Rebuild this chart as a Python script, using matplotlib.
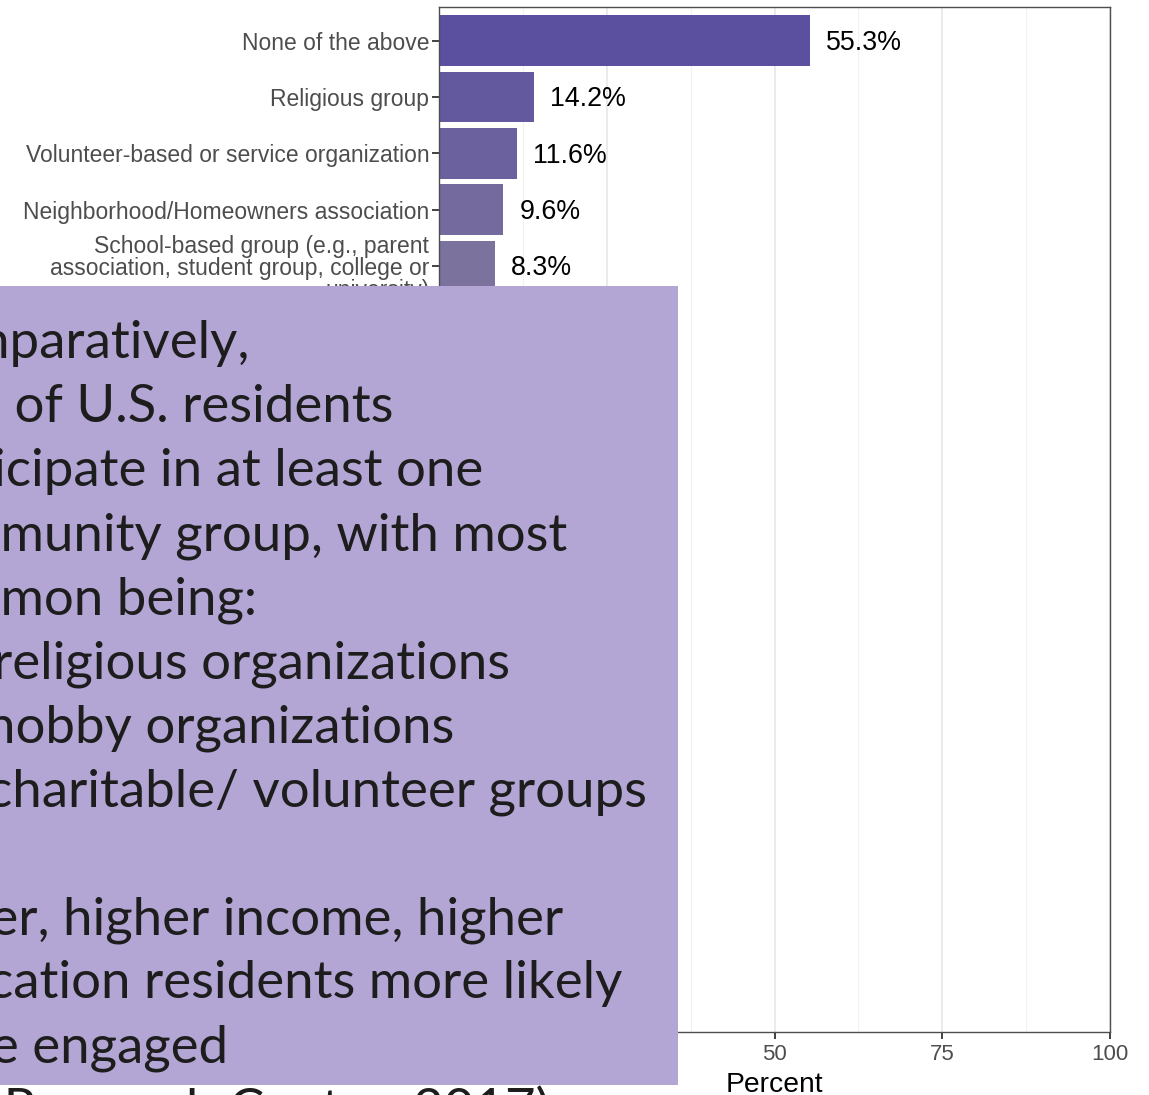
import numpy as np
import matplotlib.pyplot as plt
from matplotlib.colors import LinearSegmentedColormap
from matplotlib.patches import Rectangle

# data (top to bottom); groups below the fifth one are hidden under the text box
groups = [
    "None of the above",
    "Religious group",
    "Volunteer-based or service organization",
    "Neighborhood/Homeowners association",
    "School-based group (e.g., parent\nassociation, student group, college or\nuniversity)",
    "Hobby or interest group",
    "Sports or recreation league",
    "Professional association",
    "Civic or fraternal organization",
    "Support group",
    "Political group",
    "Cultural or ethnic group",
    "Arts or music group",
    "Environmental group",
    "Labor union",
    "Veterans group",
    "Youth organization",
    "Other",
]
percent = [55.3, 14.2, 11.6, 9.6, 8.3, 7.6, 6.9, 6.1, 5.4, 4.7, 4.1, 3.5, 3.0, 2.5, 2.0, 1.6, 1.2, 0.8]

x_ticks = [0, 25, 50, 75, 100]

# slide text: (line, number of chars cut off at the left edge, x of first visible char in px)
note_lines = [
    ("Comparatively,", 3, 10),
    ("58%  of U.S. residents", 5, 15),
    ("participate in at least one", 5, 6),
    ("community group, with most", 3, 0),
    ("common being:", 3, 0),
    ("religious organizations", 1, 12),
    ("hobby organizations", 1, 15),
    ("charitable/ volunteer groups", 1, 12),
    ("", 0, 0),
    ("Older, higher income, higher", 4, 18),
    ("education residents more likely", 4, 13),
    ("to be engaged", 6, 32),
    ("(Pew Research Center, 2017)", 5, 4),
]

W, H = 1149, 1095
fig = plt.figure(figsize=(W / 100, H / 100), dpi=100)
ax = fig.add_axes([439 / W, 1 - 1032 / H, (1110 - 439) / W, (1032 - 7) / H])

cmap = LinearSegmentedColormap.from_list("purp", ["#5b50a0", "#e7e197"])
n = len(groups)
ypos = np.arange(n)
colors = [cmap(i / (n - 1)) for i in range(n)]
ax.barh(ypos, percent, height=0.9, color=colors, zorder=2)

for y, v in zip(ypos, percent):
    ax.text(v + 2.4, y + 0.04, f"{v:.1f}%", va="center", ha="left",
            fontsize=19.3, family="Liberation Sans", color="black", zorder=3)

ax.set_xlim(0, 100)
ax.set_ylim(n - 0.4, -0.6)
ax.set_xticks(x_ticks)
ax.set_xticks([12.5, 37.5, 62.5, 87.5], minor=True)
ax.set_yticks(ypos)
ax.set_yticklabels(groups, fontsize=16.5, family="Liberation Sans",
                   color="#4d4d4d", linespacing=0.95)
ax.set_xticklabels([str(t) for t in x_ticks], fontsize=16,
                   family="Liberation Sans", color="#4d4d4d")
ax.tick_params(axis="both", which="major", length=5, width=1.3, color="#333333")
ax.tick_params(axis="x", which="minor", length=0)
ax.tick_params(axis="y", pad=2)
ax.tick_params(axis="x", pad=4)
ax.grid(axis="x", which="major", color="#ebebeb", linewidth=1.4, zorder=0)
ax.grid(axis="x", which="minor", color="#f2f2f2", linewidth=0.8, zorder=0)
ax.set_axisbelow(True)
for s in ax.spines.values():
    s.set_color("#4d4d4d")
    s.set_linewidth(1.0)
ax.set_xlabel("Percent", fontsize=20.3, family="Liberation Sans", labelpad=5)

# overlaid text box
box = Rectangle((-0.02, 1 - 1085 / H), 678 / W + 0.02, (1085 - 286) / H,
                transform=fig.transFigure, facecolor="#b3a6d4",
                edgecolor="none", zorder=5)
fig.patches.append(box)

rend = fig.canvas.get_renderer()


def ink_w(s, size):
    t = fig.text(0, 0, s, fontsize=size, family="Lato")
    w = t.get_window_extent(renderer=rend).width
    t.remove()
    return w


# pick the size so that the visible parts are as wide as on the slide
ref_w = {7: 645, 1: 381, 10: 608, 9: 539, 3: 567}
base = 36.7
ratio = np.mean([ref_w[k] / ink_w(note_lines[k][0][note_lines[k][1]:], base) for k in ref_w])
size = base * ratio

for i, (line, cut, x_vis) in enumerate(note_lines):
    if not line:
        continue
    shift = ink_w(line, size) - ink_w(line[cut:], size) if cut else 0
    baseline = 358 + 64 * i
    fig.text((x_vis - shift) / W, 1 - baseline / H, line, fontsize=size,
             family="Lato", color="#1d1d1d", ha="left", va="baseline", zorder=6)

fig.savefig("out.png", dpi=100)
